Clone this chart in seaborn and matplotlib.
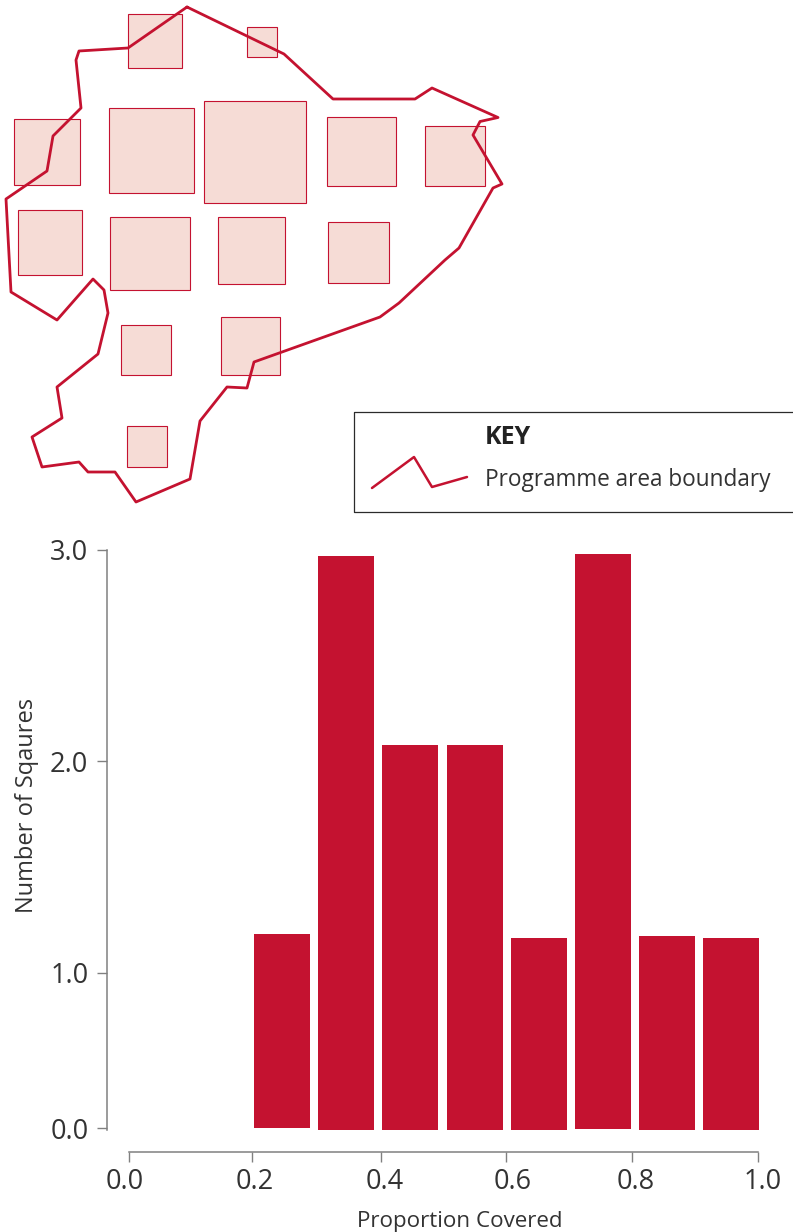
import pandas as pd
import matplotlib
matplotlib.use('Agg')
import matplotlib.pyplot as plt
from matplotlib.patches import Rectangle
from matplotlib.transforms import ScaledTranslation
import seaborn as sns

RED = '#C41230'
FILL = '#F6DCD6'
TEXT = '#333333'
GREY = '#808080'

# map squares, picture pixels
square_x = [127.7, 247, 14, 108.5, 204, 326.5, 424.5, 17.5, 109.5, 217.5, 327.5, 121, 221, 126.7]
square_y = [13.7, 27, 119, 107.5, 101, 116.5, 126, 210, 217, 216.5, 222, 325, 316.5, 426]
square_w = [54, 30, 66, 85, 101.5, 69, 60, 64.5, 80.5, 67.5, 61.5, 50, 58.5, 40.5]
square_h = [54, 30, 66, 85, 101.5, 69, 60, 64.5, 73, 67.5, 61, 50, 58.5, 40.5]

boundary_x = [187, 284, 333, 415, 432, 498, 480, 473, 502, 493, 459, 445, 399, 380, 254, 247, 227, 200,
              190, 136, 115, 88, 79, 42, 32, 62, 57, 98, 108, 104, 93, 57, 11, 6, 47, 53, 81, 76, 79, 128, 187]
boundary_y = [7, 54, 99, 99, 88, 117.5, 121.5, 135, 184, 188, 248, 260, 303, 317, 362, 388, 387, 421,
              479, 502, 472, 472, 462, 467, 437, 418, 387, 354, 313, 290, 279, 320, 292, 199, 171, 136, 108, 60, 51, 48, 7]

key_x = [372, 414, 432, 467]
key_y = [488, 457, 487, 477]

# histogram
bin_centres = [0.243, 0.345, 0.447, 0.550, 0.652, 0.754, 0.855, 0.957]
counts = [1.02, 2.99, 2.005, 2.005, 1.0, 3.0, 1.01, 1.0]
bar_base = [0.01, 0.0, 0.0, 0.0, 0.0, 0.005, 0.0, 0.0]
y_tick_pos = [0.01, 0.82, 1.92, 3.02]
y_tick_labels = ['0.0', '1.0', '2.0', '3.0']
x_tick_pos = [0.0, 0.196, 0.401, 0.599, 0.800, 1.0]
x_tick_labels = ['0.0', '0.2', '0.4', '0.6', '0.8', '1.0']
x_label_shift = [-4, 2, 3, 7, 3, 5]  # labels sit off their ticks in the original

sns.set_style('ticks')
plt.rcParams['font.family'] = ['Open Sans', 'DejaVu Sans']

W, H = 793, 1232
fig = plt.figure(figsize=(W / 100, H / 100), dpi=100)

# overlay in pixel coordinates for the map and key
top = fig.add_axes([0, 0, 1, 1])
top.set_xlim(0, W)
top.set_ylim(H, 0)
top.axis('off')

for x, y, w, h in zip(square_x, square_y, square_w, square_h):
    top.add_patch(Rectangle((x, y), w, h, facecolor=FILL, edgecolor=RED, linewidth=0.8))

sns.lineplot(x=boundary_x, y=boundary_y, sort=False, estimator=None, color=RED, linewidth=2.0, ax=top)
sns.lineplot(x=key_x, y=key_y, sort=False, estimator=None, color=RED, linewidth=1.8, ax=top)
top.set_xlim(0, W)
top.set_ylim(H, 0)

top.plot([793, 353.5, 353.5, 793], [412, 412, 512, 512], color='#2b2b2b', linewidth=0.9)
top.text(485, 437, 'KEY', fontsize=18, fontweight='bold', color='#222222', va='center', ha='left')
top.text(485, 480, 'Programme area boundary', fontsize=16.3, color=TEXT, va='center', ha='left')

# bar chart, 192 px per count
left, right, base, upper = 129, 758, 1130, 550
ax = fig.add_axes([left / W, 1 - base / H, (right - left) / W, (base - upper) / H])
ax.patch.set_alpha(0)
df = pd.DataFrame({'prop': bin_centres, 'n': counts})
sns.barplot(data=df, x='prop', y='n', native_scale=True, width=0.875, color=RED, saturation=1, linewidth=0, ax=ax)
for bar, b, n in zip(ax.patches, bar_base, counts):
    bar.set_y(b)
    bar.set_height(n - b)
    bar.set_clip_on(False)
ax.set_xlim(0, 1)
ax.set_ylim(0, 3.02)

sns.despine(ax=ax)
ax.spines['left'].set_position(('outward', 22 * 0.72))
ax.spines['bottom'].set_position(('outward', 22 * 0.72))
for s in ['left', 'bottom']:
    ax.spines[s].set_color(GREY)
    ax.spines[s].set_linewidth(1.1)

ax.set_xticks(x_tick_pos)
ax.set_xticklabels(x_tick_labels)
ax.set_yticks(y_tick_pos)
ax.set_yticklabels(y_tick_labels)
ax.tick_params(axis='both', length=7, width=1, color=GREY, labelcolor=TEXT, labelsize=19.5)
ax.tick_params(axis='y', pad=6.5)
ax.tick_params(axis='x', pad=4.5)
for lab, dx in zip(ax.get_xticklabels(), x_label_shift):
    lab.set_transform(lab.get_transform() + ScaledTranslation(dx / 100, 0, fig.dpi_scale_trans))

ax.set_xlabel('Proportion Covered', fontsize=16.1, color=TEXT, va='center')
ax.set_ylabel('Number of Sqaures', fontsize=17, color=TEXT, va='center')
ax.xaxis.set_label_coords((460 - left) / (right - left), (base - 1221) / (base - upper))
ax.yaxis.set_label_coords((27 - left) / (right - left), (base - 805) / (base - upper))

plt.savefig('out.png', dpi=100)
plt.close()
